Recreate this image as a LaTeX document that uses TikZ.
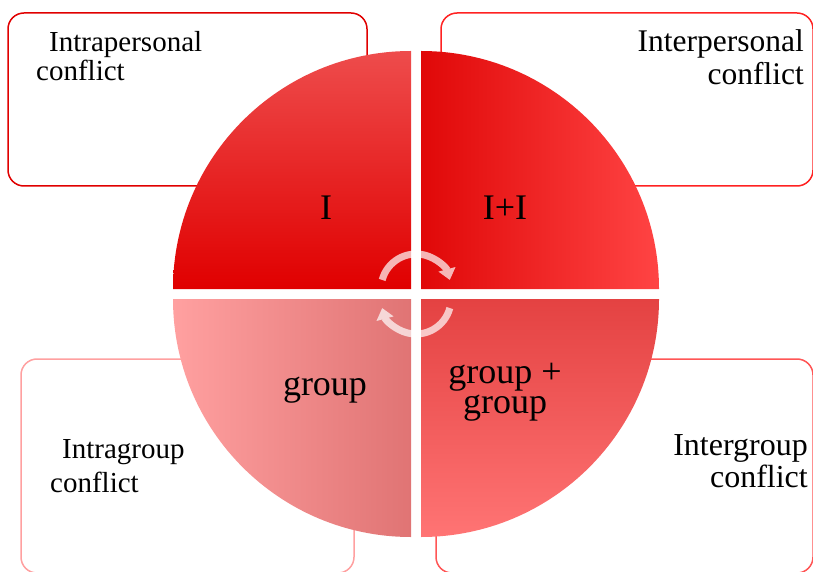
\documentclass[tikz,border=0pt]{standalone}
\usepackage{fontspec}
\setmainfont{Liberation Serif}
\usetikzlibrary{arrows.meta}

\definecolor{boxTL}{RGB}{224,0,0}
\definecolor{boxTR}{RGB}{255,34,34}
\definecolor{boxBL}{RGB}{255,160,160}
\definecolor{boxBR}{RGB}{255,85,85}

\begin{document}
\begin{tikzpicture}[x=1pt, y=1pt,
    conflictbox/.style={draw, line width=1.5pt, rounded corners=16pt, inner sep=0pt},
    boxtext/.style={inner sep=0pt, font=\fontsize{29}{33}\selectfont},
    quadlabel/.style={inner sep=0pt, align=center, font=\fontsize{36}{30}\selectfont},
    cyclearrow/.style={line width=7pt, white, -{Triangle[width=17pt, length=11pt]}}]
    \useasboundingbox (0,0) rectangle (813,571);
    \clip (0,0) rectangle (813,571);

    \node[conflictbox, draw=boxTL, minimum width=359pt, minimum height=173pt] (intrabox) at (187.5,471.5) {};
    \node[conflictbox, draw=boxTR, minimum width=372pt, minimum height=173pt] (interbox) at (627,471.5) {};
    \node[conflictbox, draw=boxBL, minimum width=333pt, minimum height=214pt] (igroupbox) at (187.5,105) {};
    \node[conflictbox, draw=boxBR, minimum width=377pt, minimum height=214pt] (egroupbox) at (624.5,105) {};

    \node[boxtext, anchor=base west, align=left, font=\fontsize{29}{29}\selectfont] (intratext) at (36,490) {\hspace{13pt}Intrapersonal\\conflict};
    \node[boxtext, anchor=base east, align=right, font=\fontsize{31.5}{33}\selectfont] (intertext) at (804,486) {Interpersonal\\conflict};
    \node[boxtext, anchor=base west, align=left, font=\fontsize{29}{34}\selectfont] (igrouptext) at (50,79) {\hspace{12pt}Intragroup\\conflict};
    \node[boxtext, anchor=base east, align=right, font=\fontsize{32}{32}\selectfont] (egrouptext) at (808,84) {Intergroup\\conflict};

    \coordinate (tl) at (411,282);
    \coordinate (tr) at (421,282);
    \coordinate (bl) at (411,272);
    \coordinate (br) at (421,272);

    \shade[top color={rgb,255:red,238;green,76;blue,76}, middle color={rgb,255:red,236;green,0;blue,0}, bottom color={rgb,255:red,224;green,0;blue,0}]
        (tl) -- ++(180:238pt) arc[start angle=180, end angle=90, radius=238pt] -- cycle;
    \shade[left color={rgb,255:red,224;green,8;blue,8}, right color={rgb,255:red,255;green,68;blue,68}]
        (tr) -- ++(90:238pt) arc[start angle=90, end angle=0, radius=238pt] -- cycle;
    \shade[left color={rgb,255:red,255;green,160;blue,160}, right color={rgb,255:red,224;green,116;blue,116}]
        (bl) -- ++(180:238pt) arc[start angle=180, end angle=270, radius=238pt] -- cycle;
    \shade[top color={rgb,255:red,228;green,66;blue,66}, bottom color={rgb,255:red,255;green,116;blue,116}]
        (br) -- ++(270:238pt) arc[start angle=270, end angle=360, radius=238pt] -- cycle;

    \node[quadlabel] (self) at (326,351) [anchor=base] {I};
    \node[quadlabel] (pair) at (505,351) [anchor=base] {I+I};
    \node[quadlabel] (group) at (325,176) [anchor=base] {group};
    \node[quadlabel] (groups) at (505,158) [anchor=base] {group +\\group};

    \begin{scope}[transparency group, opacity=0.7]
        \draw[cyclearrow] ([shift={(165:35pt)}]416,282) arc[start angle=165, end angle=15, radius=35pt];
    \end{scope}
    \begin{scope}[transparency group, opacity=0.7]
        \draw[cyclearrow] ([shift={(-15:35pt)}]416,272) arc[start angle=-15, end angle=-165, radius=35pt];
    \end{scope}
\end{tikzpicture}
\end{document}
